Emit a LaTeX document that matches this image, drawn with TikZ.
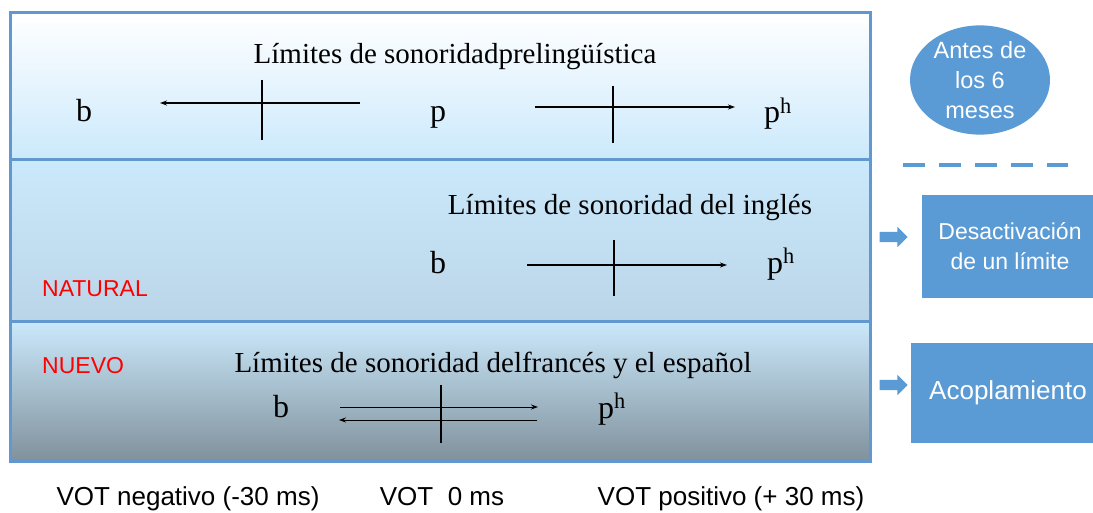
\documentclass[tikz,border=0pt]{standalone}
\usepackage{fontspec}
\setmainfont{Liberation Serif}
\setsansfont{Liberation Sans}
\usetikzlibrary{arrows.meta, positioning, shapes.geometric, shapes.arrows}
\definecolor{frameblue}{RGB}{98,152,208}
\definecolor{boxblue}{RGB}{91,155,213}
\definecolor{skytop}{RGB}{203,233,252}
\definecolor{skymid}{RGB}{186,213,231}
\definecolor{slate}{RGB}{128,145,156}

\begin{document}
\begin{tikzpicture}[x=1pt, y=1pt,
    ttl/.style={font=\fontsize{29}{29}\selectfont, anchor=base, inner sep=0pt},
    snd/.style={font=\fontsize{32}{32}\selectfont, anchor=base, inner sep=0pt},
    vot/.style={font=\sffamily\fontsize{26}{26}\selectfont, anchor=base, inner sep=0pt},
    tag/.style={font=\sffamily\fontsize{23}{23}\selectfont, text=red, anchor=base west, inner sep=0pt},
    stage/.style={rectangle, fill=boxblue, text=white, align=center, inner sep=0pt,
                  font=\sffamily\fontsize{23}{30}\selectfont},
    push/.style={single arrow, fill=boxblue, minimum height=28pt, minimum width=20pt,
                 single arrow head extend=5pt, inner sep=5pt},
    arr/.style={-{Stealth[length=7pt, width=5pt]}, line width=1.6pt},
    cut/.style={line width=1.2pt}
  ]
  \useasboundingbox (0,0) rectangle (1093,-513);

  % three panels
  \shade[top color=white, bottom color=skytop] (10,-13) rectangle (870,-160);
  \shade[top color=skytop, bottom color=skymid] (10,-160) rectangle (870,-321);
  \shade[top color=skytop, bottom color=slate] (10,-321) rectangle (870,-461);
  \draw[frameblue, line width=3pt] (10,-13) rectangle (870,-461);
  \draw[frameblue, line width=3pt] (10,-160) -- (870,-160) (10,-321) -- (870,-321);

  % prelinguistic
  \node[ttl] (t1)  at (455,-64)  {Límites de sonoridadprelingüística};
  \node[snd] (b1)  at (84,-122)  {b};
  \node[snd] (p1)  at (438,-122) {p};
  \node[snd] (ph1) at (778,-123) {p\textsuperscript{h}};
  \coordinate (l1a) at (360,-103);  \coordinate (l1b) at (160,-103);
  \coordinate (r1a) at (535,-107);  \coordinate (r1b) at (735,-107);
  \draw[arr] (l1a) -- (l1b);
  \draw[arr] (r1a) -- (r1b);
  \draw[cut] (262,-80) -- (262,-140);
  \draw[cut] (613,-86) -- (613,-143);

  % english
  \node[ttl] (t2)  at (630,-215) {Límites de sonoridad del inglés};
  \node[snd] (b2)  at (438,-273) {b};
  \node[snd] (ph2) at (781,-273) {p\textsuperscript{h}};
  \node[tag] (nat) at (42,-297)  {NATURAL};
  \coordinate (r2a) at (527,-265);  \coordinate (r2b) at (727,-265);
  \draw[arr] (r2a) -- (r2b);
  \draw[cut] (614,-240) -- (614,-296);

  % french and spanish
  \node[ttl] (t3)  at (493,-372) {Límites de sonoridad delfrancés y el español};
  \node[snd] (b3)  at (281,-417) {b};
  \node[snd] (ph3) at (612,-418) {p\textsuperscript{h}};
  \node[tag] (new) at (42,-373)  {NUEVO};
  \coordinate (u3a) at (340,-407);  \coordinate (u3b) at (538,-407);
  \coordinate (d3a) at (537,-420);  \coordinate (d3b) at (339,-420);
  \draw[arr, line width=1pt] (u3a) -- (u3b);
  \draw[arr, line width=1pt] (d3a) -- (d3b);
  \draw[cut] (441,-385) -- (441,-443);

  % VOT scale
  \node[vot] (neg)  at (188,-505) {VOT negativo (-30 ms)};
  \node[vot] (zero) at (442,-505) {VOT\ \ 0 ms};
  \node[vot] (pos)  at (731,-505) {VOT positivo (+ 30 ms)};

  % stages
  \node[ellipse, fill=boxblue, text=white, minimum width=140pt, minimum height=94pt,
        inner sep=0pt, align=center, font=\sffamily\fontsize{23.5}{30}\selectfont]
        (age) at (980,-80) {Antes de\\los 6\\meses};
  \coordinate (d0) at (903,-165);  \coordinate (d1) at (1068,-165);
  \draw[boxblue, line width=4pt, dash pattern=on 22pt off 14pt] (d0) -- (d1);
  \node[stage, minimum width=176pt, minimum height=103pt] (off) at (1010,-246.5)
        {Desactivación\\de un límite};
  \node[stage, minimum width=194pt, minimum height=100pt,
        font=\sffamily\fontsize{26}{30}\selectfont] (couple) at (1008,-393) {Acoplamiento};
  \node[push] (g1) at (891,-237) {};
  \node[push] (g2) at (891,-385) {};
\end{tikzpicture}
\end{document}
